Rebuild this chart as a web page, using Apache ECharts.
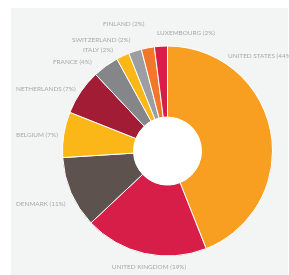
<!DOCTYPE html>
<html>
<head>
<meta charset="utf-8">
<script src="https://cdn.jsdelivr.net/npm/echarts@6/dist/echarts.min.js"></script>
<style>
  html, body { margin: 0; padding: 0; background: #fff; }
  #chart { width: 289px; height: 275px; }
</style>
</head>
<body>
<div id="chart"></div>
<script>
// countries, clockwise from 12 o'clock
const countries = ['UNITED STATES', 'UNITED KINGDOM', 'DENMARK', 'BELGIUM', 'NETHERLANDS',
    'FRANCE', 'ITALY', 'SWITZERLAND', 'FINLAND', 'LUXEMBOURG'];
const shares = [44, 19, 11, 7, 7, 4, 2, 2, 2, 2];
const colors = ['#f89f21', '#d61e48', '#5d524d', '#fbb718', '#a31c35',
    '#848689', '#fbb718', '#9c9ea1', '#f2772a', '#d61e48'];

// where each label sits: [x, y, align]
const labelPos = [
    [228, 56, 'left'],
    [149, 267, 'center'],
    [16, 204, 'left'],
    [16, 135, 'left'],
    [16, 89, 'left'],
    [53, 62, 'left'],
    [83, 50, 'left'],
    [72, 40, 'left'],
    [103, 24, 'left'],
    [157, 33, 'left']
];

const chart = echarts.init(document.getElementById('chart'));

const data = countries.map(function (name, i) {
    return { name: name, value: shares[i], itemStyle: { color: colors[i] } };
});

chart.setOption({
    animation: false,
    backgroundColor: '#fff',
    graphic: [
        {
            type: 'rect', z: -10,
            shape: { x: 11, y: 8, width: 277, height: 267 },
            style: { fill: '#f3f4f4' }
        },
        {
            type: 'circle', z: 10,
            shape: { cx: 167.5, cy: 151, r: 34 },
            style: { fill: '#fff' }
        }
    ],
    series: [
        {
            type: 'pie',
            center: [167.5, 151],
            radius: [34, 105],
            startAngle: 90,
            clockwise: true,
            silent: true,
            avoidLabelOverlap: false,
            data: data,
            itemStyle: { borderColor: '#fff', borderWidth: 1 },
            labelLine: { show: false },
            label: {
                show: true,
                position: 'outside',
                overflow: 'none',
                formatter: function (p) { return p.name + ' (' + p.value + '%)'; },
                fontFamily: 'Lato',
                fontSize: 6.4,
                color: '#a9a9a9'
            },
            labelLayout: function (params) {
                const pos = labelPos[params.dataIndex];
                return { x: pos[0], y: pos[1], align: pos[2], verticalAlign: 'middle', hideOverlap: false };
            }
        }
    ]
});
</script>
</body>
</html>
